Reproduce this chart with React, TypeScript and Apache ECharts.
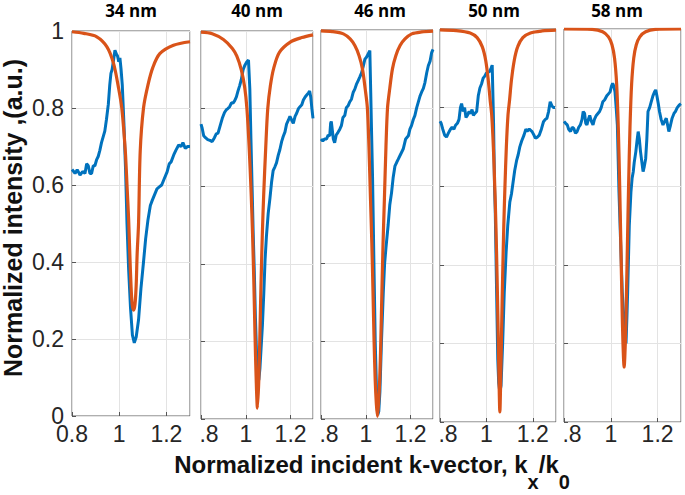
import React, { useEffect, useRef } from 'react';
import * as echarts from 'echarts';

// ---------------- data ----------------
const panelTitles = ['34 nm', '40 nm', '46 nm', '50 nm', '58 nm'];
const xTickValues = [0.8, 1.0, 1.2];
const yTickValues = [0, 0.2, 0.4, 0.6, 0.8, 1];

// measured (blue) and simulated (orange) curves, [k_x/k_0, intensity]
const exp34: number[][] = [[0.8,0.64],[0.807,0.635],[0.813,0.63],[0.822,0.64],[0.834,0.626],[0.845,0.635],[0.855,0.63],[0.862,0.655],[0.869,0.65],[0.876,0.63],[0.883,0.63],[0.89,0.65],[0.897,0.65],[0.904,0.665],[0.911,0.674],[0.918,0.69],[0.925,0.71],[0.932,0.725],[0.939,0.74],[0.946,0.77],[0.954,0.81],[0.96,0.86],[0.965,0.89],[0.97,0.9],[0.975,0.92],[0.982,0.95],[0.988,0.94],[0.993,0.935],[0.998,0.92],[1.003,0.93],[1.008,0.9],[1.013,0.86],[1.02,0.76],[1.027,0.64],[1.033,0.5],[1.04,0.38],[1.048,0.28],[1.056,0.21],[1.064,0.19],[1.072,0.205],[1.082,0.25],[1.092,0.33],[1.103,0.4],[1.112,0.46],[1.122,0.51],[1.132,0.547],[1.14,0.56],[1.15,0.575],[1.16,0.59],[1.17,0.595],[1.18,0.6],[1.19,0.615],[1.203,0.634],[1.212,0.655],[1.22,0.66],[1.231,0.678],[1.24,0.69],[1.252,0.704],[1.262,0.7],[1.27,0.71],[1.28,0.695],[1.29,0.7],[1.3,0.7]];
const sim34: number[][] = [[0.8,0.998],[0.85,0.994],[0.905,0.985],[0.948,0.959],[0.976,0.916],[0.997,0.853],[1.011,0.8],[1.026,0.687],[1.033,0.6],[1.04,0.51],[1.045,0.42],[1.05,0.34],[1.055,0.29],[1.061,0.275],[1.067,0.29],[1.072,0.34],[1.076,0.42],[1.082,0.5],[1.089,0.687],[1.103,0.8],[1.122,0.86],[1.143,0.906],[1.172,0.941],[1.23,0.963],[1.3,0.972]];

const exp40: number[][] = [[0.8,0.76],[0.805,0.75],[0.812,0.73],[0.82,0.725],[0.83,0.72],[0.84,0.718],[0.85,0.715],[0.86,0.725],[0.868,0.735],[0.876,0.737],[0.885,0.755],[0.895,0.775],[0.905,0.79],[0.913,0.797],[0.92,0.8],[0.928,0.805],[0.936,0.815],[0.943,0.814],[0.95,0.82],[0.958,0.83],[0.965,0.845],[0.973,0.86],[0.98,0.875],[0.988,0.9],[0.996,0.912],[1.004,0.92],[1.012,0.925],[1.018,0.85],[1.023,0.72],[1.028,0.6],[1.033,0.48],[1.038,0.38],[1.043,0.26],[1.048,0.17],[1.053,0.12],[1.058,0.1],[1.063,0.13],[1.068,0.18],[1.074,0.24],[1.08,0.32],[1.086,0.41],[1.092,0.47],[1.1,0.53],[1.108,0.57],[1.115,0.61],[1.122,0.64],[1.13,0.65],[1.137,0.66],[1.145,0.68],[1.152,0.694],[1.16,0.715],[1.167,0.728],[1.175,0.74],[1.182,0.76],[1.19,0.77],[1.197,0.78],[1.205,0.77],[1.212,0.762],[1.22,0.78],[1.227,0.788],[1.235,0.8],[1.242,0.805],[1.25,0.81],[1.257,0.822],[1.265,0.83],[1.272,0.835],[1.279,0.84],[1.285,0.845],[1.29,0.83],[1.295,0.8],[1.3,0.775]];
const sim40: number[][] = [[0.8,0.997],[0.85,0.993],[0.9,0.978],[0.94,0.955],[0.96,0.935],[0.98,0.9],[0.995,0.855],[1.005,0.8],[1.015,0.7],[1.024,0.58],[1.03,0.48],[1.036,0.35],[1.041,0.22],[1.046,0.11],[1.052,0.028],[1.058,0.1],[1.063,0.22],[1.068,0.35],[1.074,0.48],[1.08,0.58],[1.089,0.7],[1.098,0.8],[1.11,0.86],[1.125,0.905],[1.15,0.945],[1.2,0.972],[1.25,0.983],[1.3,0.99]];

const exp46: number[][] = [[0.8,0.72],[0.808,0.715],[0.816,0.72],[0.825,0.72],[0.832,0.73],[0.839,0.728],[0.843,0.76],[0.846,0.765],[0.85,0.745],[0.855,0.72],[0.861,0.71],[0.868,0.73],[0.876,0.737],[0.884,0.745],[0.891,0.754],[0.898,0.775],[0.906,0.78],[0.913,0.8],[0.921,0.805],[0.928,0.815],[0.936,0.822],[0.944,0.84],[0.951,0.848],[0.958,0.86],[0.966,0.87],[0.974,0.88],[0.981,0.89],[0.988,0.905],[0.996,0.925],[1.003,0.93],[1.01,0.938],[1.018,0.947],[1.022,0.84],[1.026,0.73],[1.03,0.625],[1.036,0.41],[1.042,0.2],[1.048,0.07],[1.053,0.01],[1.058,0.02],[1.063,0.07],[1.07,0.2],[1.078,0.325],[1.084,0.4],[1.09,0.44],[1.1,0.5],[1.107,0.55],[1.115,0.582],[1.122,0.62],[1.13,0.65],[1.138,0.66],[1.145,0.668],[1.155,0.68],[1.167,0.694],[1.178,0.72],[1.19,0.728],[1.197,0.745],[1.204,0.754],[1.212,0.77],[1.219,0.78],[1.227,0.8],[1.234,0.814],[1.242,0.83],[1.249,0.84],[1.257,0.85],[1.264,0.865],[1.272,0.89],[1.279,0.908],[1.287,0.92],[1.294,0.942],[1.3,0.95]];
const sim46: number[][] = [[0.8,0.998],[0.85,0.996],[0.9,0.99],[0.93,0.977],[0.951,0.96],[0.97,0.934],[0.985,0.9],[0.997,0.85],[1.007,0.8],[1.014,0.7],[1.021,0.565],[1.027,0.45],[1.032,0.33],[1.037,0.2],[1.042,0.1],[1.047,0.04],[1.052,0.007],[1.057,0.04],[1.062,0.1],[1.067,0.2],[1.072,0.33],[1.077,0.45],[1.083,0.565],[1.09,0.7],[1.097,0.8],[1.107,0.85],[1.119,0.9],[1.134,0.934],[1.153,0.96],[1.175,0.977],[1.205,0.99],[1.25,0.995],[1.3,0.997]];

const exp50: number[][] = [[0.8,0.765],[0.805,0.76],[0.812,0.745],[0.82,0.73],[0.828,0.725],[0.836,0.735],[0.845,0.745],[0.852,0.75],[0.86,0.745],[0.867,0.755],[0.875,0.76],[0.882,0.77],[0.888,0.8],[0.893,0.81],[0.9,0.79],[0.906,0.8],[0.912,0.775],[0.918,0.78],[0.925,0.79],[0.932,0.785],[0.938,0.795],[0.944,0.78],[0.95,0.785],[0.958,0.79],[0.965,0.83],[0.972,0.85],[0.979,0.86],[0.986,0.875],[0.993,0.88],[1.0,0.888],[1.008,0.89],[1.014,0.892],[1.02,0.9],[1.025,0.908],[1.031,0.756],[1.035,0.6],[1.038,0.543],[1.044,0.33],[1.049,0.16],[1.053,0.1],[1.058,0.075],[1.063,0.092],[1.07,0.2],[1.077,0.33],[1.085,0.432],[1.092,0.5],[1.101,0.56],[1.108,0.58],[1.115,0.61],[1.122,0.64],[1.13,0.665],[1.137,0.68],[1.144,0.7],[1.152,0.715],[1.162,0.73],[1.17,0.745],[1.176,0.74],[1.185,0.745],[1.197,0.739],[1.205,0.73],[1.211,0.722],[1.22,0.725],[1.228,0.73],[1.237,0.745],[1.246,0.764],[1.254,0.77],[1.261,0.773],[1.268,0.79],[1.275,0.815],[1.282,0.805],[1.289,0.8],[1.296,0.8]];
const sim50: number[][] = [[0.8,0.998],[0.87,0.996],[0.93,0.99],[0.96,0.978],[0.982,0.955],[0.997,0.92],[1.008,0.87],[1.016,0.82],[1.023,0.78],[1.03,0.7],[1.036,0.6],[1.041,0.5],[1.046,0.37],[1.05,0.25],[1.054,0.12],[1.058,0.026],[1.062,0.12],[1.066,0.25],[1.07,0.37],[1.075,0.5],[1.08,0.6],[1.086,0.7],[1.093,0.78],[1.1,0.82],[1.108,0.87],[1.12,0.92],[1.135,0.955],[1.157,0.978],[1.19,0.99],[1.24,0.995],[1.3,0.997]];

const exp58: number[][] = [[0.8,0.765],[0.807,0.76],[0.814,0.756],[0.82,0.745],[0.828,0.739],[0.835,0.75],[0.842,0.747],[0.849,0.735],[0.856,0.739],[0.863,0.75],[0.87,0.756],[0.877,0.77],[0.882,0.79],[0.888,0.785],[0.893,0.76],[0.898,0.756],[0.904,0.77],[0.91,0.78],[0.917,0.765],[0.924,0.756],[0.93,0.77],[0.938,0.78],[0.945,0.785],[0.952,0.79],[0.959,0.8],[0.966,0.815],[0.974,0.82],[0.983,0.83],[0.99,0.835],[0.997,0.84],[1.003,0.855],[1.008,0.862],[1.013,0.855],[1.018,0.84],[1.023,0.8],[1.028,0.756],[1.035,0.585],[1.042,0.458],[1.049,0.33],[1.056,0.262],[1.062,0.22],[1.065,0.2],[1.069,0.27],[1.072,0.33],[1.079,0.5],[1.086,0.585],[1.091,0.62],[1.096,0.637],[1.1,0.66],[1.107,0.688],[1.112,0.715],[1.117,0.739],[1.122,0.72],[1.127,0.688],[1.133,0.66],[1.138,0.637],[1.143,0.65],[1.149,0.67],[1.154,0.72],[1.159,0.79],[1.166,0.8],[1.173,0.815],[1.18,0.83],[1.187,0.84],[1.192,0.845],[1.197,0.83],[1.203,0.81],[1.208,0.79],[1.215,0.77],[1.223,0.756],[1.23,0.765],[1.237,0.773],[1.243,0.755],[1.248,0.739],[1.255,0.755],[1.262,0.773],[1.27,0.785],[1.276,0.79],[1.284,0.8],[1.293,0.807],[1.3,0.81]];
const sim58: number[][] = [[0.8,1.0],[0.92,0.999],[0.965,0.993],[0.99,0.98],[1.005,0.96],[1.016,0.926],[1.025,0.86],[1.032,0.75],[1.038,0.6],[1.043,0.45],[1.048,0.3],[1.052,0.2],[1.057,0.14],[1.062,0.2],[1.066,0.3],[1.071,0.45],[1.076,0.6],[1.082,0.75],[1.089,0.86],[1.098,0.926],[1.109,0.96],[1.124,0.98],[1.149,0.993],[1.19,0.999],[1.3,1.0]];

const measuredSeries = [exp34, exp40, exp46, exp50, exp58];
const simulatedSeries = [sim34, sim40, sim46, sim50, sim58];

// axis titles
const yAxisTitle = 'Normalized intensity ,(a.u.)';
const xAxisTitleParts = ['Normalized incident k-vector, k', 'x', '/k', '0']; // main, sub, main, sub

// ---------------- layout / style ----------------
const boxes = [
  { left: 72, top: 31, width: 118, height: 385, titleX: 131 },
  { left: 201, top: 31, width: 112, height: 388, titleX: 257 },
  { left: 321, top: 30, width: 112, height: 389, titleX: 380 },
  { left: 440, top: 29, width: 116, height: 393, titleX: 494 },
  { left: 564, top: 29, width: 117, height: 393, titleX: 617 },
];
const LABEL_ROW_Y = 434; // centre of the x tick-label row
const LABEL_LH = 18;
const BLUE = '#0072BD';
const ORANGE = '#D95319';
const TEXT = '#262626';
const FONT = '"Liberation Sans", Arial, Helvetica, sans-serif';
const MAIN_FONT = 'bold 24px ' + FONT;
const SUB_FONT = 'bold 20px ' + FONT;

function measure(text: string, font: string): number {
  const ctx = document.createElement('canvas').getContext('2d');
  if (!ctx) return text.length * 12;
  ctx.font = font;
  return ctx.measureText(text).width;
}

export default function App() {
  const ref = useRef<HTMLDivElement>(null);

  useEffect(() => {
    if (!ref.current) return;
    const chart = echarts.init(ref.current, undefined, { renderer: 'svg' });

    const near = (a: number, b: number) => Math.abs(a - b) < 1e-6;

    const grid = boxes.map((b) => ({
      left: b.left,
      top: b.top,
      width: b.width,
      height: b.height,
      show: true,
      borderColor: '#5f5f5f',
      borderWidth: 1,
      backgroundColor: 'transparent',
      containLabel: false,
    }));

    const xAxis = boxes.map((b, i) => ({
      type: 'value',
      gridIndex: i,
      min: 0.8,
      max: 1.3,
      interval: 0.2,
      axisLine: { show: false },
      axisTick: { show: true, inside: true, length: 4, lineStyle: { color: '#555' } },
      splitLine: { show: true, lineStyle: { color: '#e3e3e3', width: 1 } },
      axisLabel: {
        show: true,
        showMaxLabel: false,
        showMinLabel: true,
        margin: LABEL_ROW_Y - LABEL_LH / 2 - (b.top + b.height),
        color: TEXT,
        fontFamily: FONT,
        fontSize: 23,
        lineHeight: LABEL_LH,
        formatter: (v: number) => {
          if (near(v, xTickValues[0])) return i === 0 ? '0.8' : '{p|.8}';
          if (near(v, xTickValues[1])) return '1';
          if (near(v, xTickValues[2])) return '1.2';
          return '';
        },
        rich: {
          p: { padding: [0, 0, 0, 16], color: TEXT, fontFamily: FONT, fontSize: 23, lineHeight: LABEL_LH },
        },
      },
    }));

    const yAxis = boxes.map((b, i) => ({
      type: 'value',
      gridIndex: i,
      min: 0,
      max: 1,
      interval: 0.2,
      axisLine: { show: false },
      axisTick: { show: true, inside: true, length: 4, lineStyle: { color: '#555' } },
      splitLine: { show: true, lineStyle: { color: '#e3e3e3', width: 1 } },
      axisLabel: {
        show: i === 0,
        showMaxLabel: true,
        margin: 8,
        color: TEXT,
        fontFamily: FONT,
        fontSize: 23,
        lineHeight: 16,
        formatter: (v: number) => {
          const t = yTickValues.find((y) => near(y, v));
          return t === undefined ? '' : String(t);
        },
      },
    }));

    const series: any[] = [];
    boxes.forEach((_, i) => {
      series.push({
        type: 'line',
        name: 'measured ' + panelTitles[i],
        xAxisIndex: i,
        yAxisIndex: i,
        data: measuredSeries[i],
        showSymbol: false,
        symbol: 'none',
        lineStyle: { color: BLUE, width: 3 },
        z: 2,
        clip: true,
      });
      series.push({
        type: 'line',
        name: 'simulated ' + panelTitles[i],
        xAxisIndex: i,
        yAxisIndex: i,
        data: simulatedSeries[i],
        showSymbol: false,
        symbol: 'none',
        smooth: 0.3,
        lineStyle: { color: ORANGE, width: 3.2 },
        z: 3,
        clip: true,
      });
    });

    const graphic: any[] = boxes.map((b, i) => ({
      type: 'text',
      x: b.titleX,
      y: 10,
      style: {
        text: panelTitles[i],
        font: 'bold 17px "Open Sans", "Noto Sans", sans-serif',
        fill: '#000',
        align: 'center',
        verticalAlign: 'middle',
      },
    }));

    graphic.push({
      type: 'text',
      x: 13,
      y: 218,
      rotation: Math.PI / 2,
      style: {
        text: yAxisTitle,
        font: 'bold 25px ' + FONT,
        fill: '#111',
        align: 'center',
        verticalAlign: 'middle',
      },
    });

    // x-axis title with real subscripts
    const fonts = [MAIN_FONT, SUB_FONT, MAIN_FONT, SUB_FONT];
    const widths = xAxisTitleParts.map((t, k) => measure(t, fonts[k]));
    const total = widths.reduce((a, b) => a + b, 0);
    let cursor = 372 - total / 2;
    xAxisTitleParts.forEach((t, k) => {
      const isSub = k % 2 === 1;
      graphic.push({
        type: 'text',
        x: cursor,
        y: isSub ? 482 : 464.8,
        style: {
          text: t,
          font: fonts[k],
          fill: '#111',
          align: 'left',
          verticalAlign: 'middle',
        },
      });
      cursor += widths[k];
    });

    chart.setOption({
      animation: false,
      backgroundColor: '#fff',
      grid,
      xAxis,
      yAxis,
      series,
      graphic,
    });

    return () => chart.dispose();
  }, []);

  return (
    <div
      ref={ref}
      style={{ position: 'absolute', left: 0, top: 0, width: 685, height: 495 }}
    />
  );
}
